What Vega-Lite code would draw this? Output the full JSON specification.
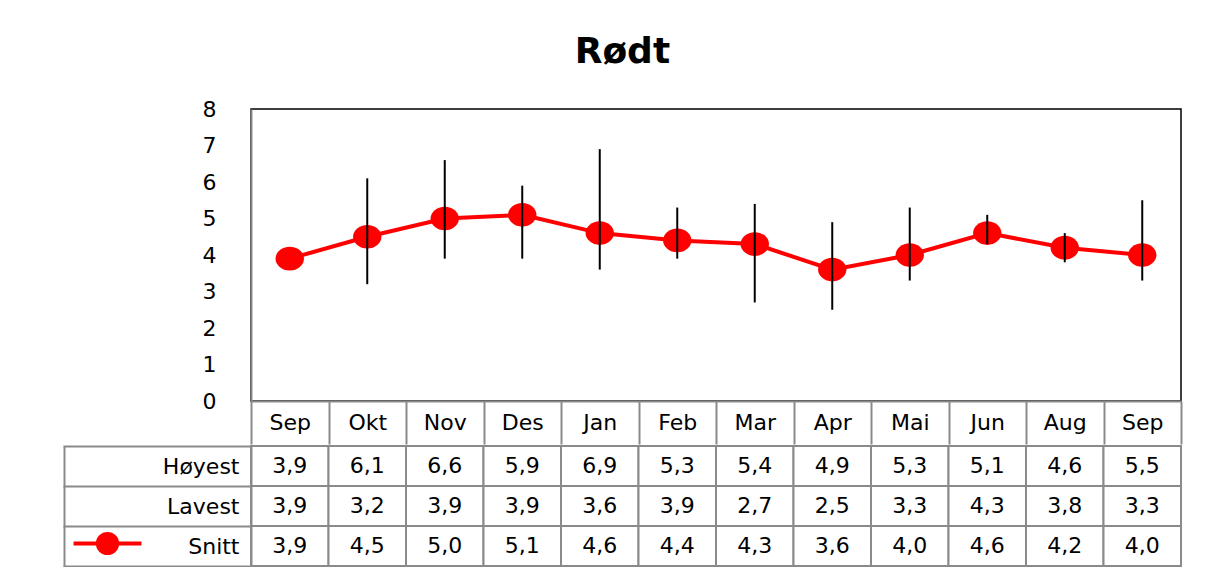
{
  "$schema": "https://vega.github.io/schema/vega-lite/v6.json",
  "padding": {"left": 62, "top": 34, "right": 31, "bottom": 0},
  "background": "white",
  "config": {
    "font": "DejaVu Sans",
    "concat": {"spacing": -13},
    "axis": {"labelOverlap": false},
    "axisY": {"labelOverlap": false},
    "axisQuantitative": {"labelOverlap": false, "tickCount": 9},
    "locale": {"number": {"decimal": ",", "thousands": " ", "grouping": [3], "currency": ["", " kr"]}}
  },
  "title": {"text": "Rødt", "font": "DejaVu Sans", "fontSize": 36, "fontWeight": "bold", "anchor": "middle", "offset": 26, "color": "black"},
  "data": {"values": [
    {"id": "01 Sep", "Høyest": 3.9, "Lavest": 3.9, "Snitt": 3.9},
    {"id": "02 Okt", "Høyest": 6.1, "Lavest": 3.2, "Snitt": 4.5},
    {"id": "03 Nov", "Høyest": 6.6, "Lavest": 3.9, "Snitt": 5.0},
    {"id": "04 Des", "Høyest": 5.9, "Lavest": 3.9, "Snitt": 5.1},
    {"id": "05 Jan", "Høyest": 6.9, "Lavest": 3.6, "Snitt": 4.6},
    {"id": "06 Feb", "Høyest": 5.3, "Lavest": 3.9, "Snitt": 4.4},
    {"id": "07 Mar", "Høyest": 5.4, "Lavest": 2.7, "Snitt": 4.3},
    {"id": "08 Apr", "Høyest": 4.9, "Lavest": 2.5, "Snitt": 3.6},
    {"id": "09 Mai", "Høyest": 5.3, "Lavest": 3.3, "Snitt": 4.0},
    {"id": "10 Jun", "Høyest": 5.1, "Lavest": 4.3, "Snitt": 4.6},
    {"id": "11 Aug", "Høyest": 4.6, "Lavest": 3.8, "Snitt": 4.2},
    {"id": "12 Sep", "Høyest": 5.5, "Lavest": 3.3, "Snitt": 4.0}
  ]},
  "spacing": -13,
  "vconcat": [
    {
      "width": 930,
      "height": 292,
      "view": {"stroke": "black", "strokeWidth": 1.5},
      "encoding": {
        "x": {
          "field": "id", "type": "ordinal",
          "scale": {"paddingInner": 0, "paddingOuter": 0},
          "axis": {
            "title": null, "labelExpr": "slice(datum.label, 3)", "labelFontSize": 22, "labelColor": "black",
            "labelAngle": 0, "tickBand": "extent", "tickSize": 43, "tickColor": "#8a8a8a", "tickWidth": 2,
            "domainColor": "#8a8a8a", "domainWidth": 2, "labelPadding": -32, "maxExtent": 43
          }
        }
      },
      "layer": [
        {
          "mark": {"type": "line", "color": "#ff0000", "strokeWidth": 4},
          "encoding": {
            "y": {
              "field": "Snitt", "type": "quantitative",
              "scale": {"domain": [0, 8], "nice": false},
              "axis": {
                "title": null, "values": [0, 1, 2, 3, 4, 5, 6, 7, 8], "tickCount": 9, "labelFontSize": 22, "labelColor": "black",
                "labelOverlap": false, "ticks": false, "grid": false, "domainColor": "#8a8a8a", "domainWidth": 2,
                "labelPadding": 35, "minExtent": 188, "maxExtent": 188
              }
            }
          }
        },
        {
          "mark": {"type": "point", "filled": true, "color": "#ff0000", "opacity": 1, "size": 560, "shape": "M1.2,0A1.2,1,0,1,1,-1.2,0A1.2,1,0,1,1,1.2,0Z"},
          "encoding": {
            "y": {
              "field": "Snitt", "type": "quantitative",
              "axis": {
                "title": null, "values": [0, 1, 2, 3, 4, 5, 6, 7, 8], "tickCount": 9, "labelFontSize": 22, "labelColor": "black",
                "labelOverlap": false, "ticks": false, "grid": false, "domainColor": "#8a8a8a", "domainWidth": 2,
                "labelPadding": 35, "minExtent": 188, "maxExtent": 188
              }
            }
          }
        },
        {
          "mark": {"type": "rule", "color": "black", "strokeWidth": 2},
          "encoding": {
            "y": {
              "field": "Lavest", "type": "quantitative",
              "axis": {
                "title": null, "values": [0, 1, 2, 3, 4, 5, 6, 7, 8], "tickCount": 9, "labelFontSize": 22, "labelColor": "black",
                "labelOverlap": false, "ticks": false, "grid": false, "domainColor": "#8a8a8a", "domainWidth": 2,
                "labelPadding": 35, "minExtent": 188, "maxExtent": 188
              }
            },
            "y2": {"field": "Høyest"}
          }
        }
      ]
    },
    {
      "width": 930,
      "height": 120,
      "view": {"stroke": null},
      "transform": [{"fold": ["Høyest", "Lavest", "Snitt"], "as": ["rad", "verdi"]}],
      "encoding": {
        "x": {"field": "id", "type": "ordinal", "scale": {"paddingInner": 0, "paddingOuter": 0}, "axis": null}
      },
      "layer": [
        {
          "mark": {"type": "rect", "fill": "white", "stroke": "#8a8a8a", "strokeWidth": 2},
          "encoding": {
            "y": {
              "field": "rad", "type": "nominal", "sort": ["Høyest", "Lavest", "Snitt"],
              "scale": {"paddingInner": 0, "paddingOuter": 0},
              "axis": {
                "title": null, "tickBand": "extent", "tickSize": 188, "tickColor": "#8a8a8a", "tickWidth": 2,
                "domainColor": "#8a8a8a", "domainWidth": 2, "labelFontSize": 22, "labelColor": "black",
                "labelPadding": -176, "labelAlign": "right", "grid": false
              }
            }
          }
        },
        {
          "mark": {"type": "text", "fontSize": 22, "color": "black"},
          "encoding": {
            "y": {
              "field": "rad", "type": "nominal", "sort": ["Høyest", "Lavest", "Snitt"],
              "axis": {"orient": "left", "offset": 187, "labels": false, "ticks": false, "grid": false, "domainColor": "#8a8a8a", "domainWidth": 2, "title": null}
            },
            "text": {"field": "verdi", "type": "quantitative", "format": ".1f"}
          }
        },
        {
          "transform": [{"filter": "datum.rad === 'Snitt'"}],
          "mark": {"type": "point", "filled": true, "opacity": 0},
          "encoding": {
            "y": {"field": "rad", "type": "nominal", "sort": ["Høyest", "Lavest", "Snitt"], "axis": null},
            "color": {
              "field": "rad", "type": "nominal",
              "scale": {"range": ["#ff0000"]},
              "legend": {
                "orient": "none", "legendX": -157, "legendY": 421, "title": null, "labelExpr": "''",
                "symbolType": "M-3,0L3,0M0.85,0A0.85,0.85,0,1,1,-0.85,0A0.85,0.85,0,1,1,0.85,0Z",
                "symbolSize": 512, "symbolStrokeWidth": 4, "symbolStrokeColor": "#ff0000",
                "symbolFillColor": "#ff0000", "symbolOpacity": 1, "padding": 0, "offset": 0
              }
            }
          }
        }
      ],
      "resolve": {"axis": {"y": "independent"}}
    }
  ]
}
